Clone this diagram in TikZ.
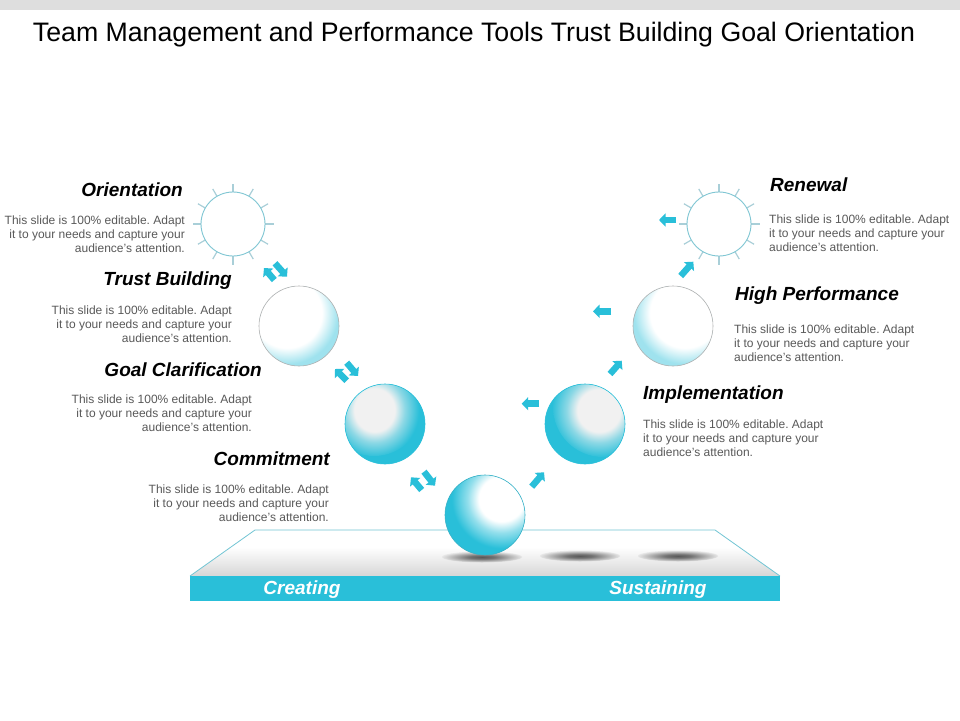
\documentclass[tikz,border=0pt]{standalone}
\usepackage{fontspec}
\setmainfont{Liberation Sans}
\usetikzlibrary{arrows.meta}
\frenchspacing
\definecolor{teal1}{HTML}{29BFD9}
\definecolor{bodygray}{HTML}{595959}
\definecolor{rim}{HTML}{7FC6D3}
\definecolor{raycol}{HTML}{A9CFD8}
\definecolor{softw}{HTML}{F1F1F1}
\pgfdeclareradialshading{hlWhite}{\pgfpoint{0bp}{0bp}}{color(0bp)=(white); color(10bp)=(white); color(15bp)=(teal1!50!white); color(22bp)=(teal1); color(50bp)=(teal1)}
\pgfdeclareradialshading{hlSoft}{\pgfpoint{0bp}{0bp}}{color(0bp)=(softw); color(10bp)=(softw); color(15bp)=(teal1!50!softw); color(22bp)=(teal1); color(50bp)=(teal1)}
\pgfdeclareradialshading{hlPale}{\pgfpoint{0bp}{0bp}}{color(0bp)=(white); color(15bp)=(white); color(22bp)=(teal1!45!white); color(50bp)=(teal1!45!white)}
\pgfdeclareradialshading{shadowball}{\pgfpoint{0bp}{0bp}}{color(0bp)=(black!65); color(8bp)=(black!55); color(25bp)=(black!10); color(50bp)=(white)}
\tikzset{
  sphere/.style={circle,minimum size=80pt,inner sep=0pt,line width=.6pt},
  glow/.style n args={4}{path picture={\shade[shading=#1] ([shift={(#2,#3)}]path picture bounding box.center) circle (#4);}},
  sunball/.style={circle,minimum size=64pt,inner sep=0pt,draw=rim,line width=.9pt,fill=white},
  rayline/.style={draw=raycol,line width=1.2pt},
  head/.style={font=\fontsize{19}{22}\selectfont\bfseries\itshape,text=black,inner sep=0pt},
  bodyl/.style={font=\fontsize{12}{14}\selectfont,text=bodygray,inner sep=0pt,align=right,anchor=east},
  bodyr/.style={font=\fontsize{12}{14}\selectfont,text=bodygray,inner sep=0pt,align=left,anchor=west},
  blockarrow/.style={draw=teal1,line width=6.5pt,-{Triangle[length=6.5pt,width=13pt]}},
  bandtext/.style={font=\fontsize{19}{22}\selectfont\bfseries\itshape,text=white,inner sep=0pt},
  shadowell/.style={shading=shadowball}
}
\begin{document}
\begin{tikzpicture}[x=1pt,y=-1pt]
\useasboundingbox (0,0) rectangle (960,720);
\fill[white] (0,0) rectangle (960,720);
\fill[black!13] (0,0) rectangle (960,10);
\node[inner sep=0pt,font=\fontsize{26.7}{32}\selectfont] (title) at (474,34.5) {Team Management and Performance Tools Trust Building Goal Orientation};
% platform
\fill[white] (190,576) -- (255,530) -- (715,530) -- (780,576) -- cycle;
\begin{scope}
\clip (190,576) -- (255,530) -- (715,530) -- (780,576) -- cycle;
\shade[top color=white,bottom color=black!16] (180,547) rectangle (790,576);
\end{scope}
\draw[rim!85!teal1,line width=.8pt] (190,576) -- (255,530) -- (715,530) -- (780,576);
\fill[teal1] (190,576) rectangle (780,601);
\node[bandtext] (creating) at (302,589.5) {Creating};
\node[bandtext] (sustaining) at (658,589.5) {Sustaining};
% shadows
\shade[shadowell] (482,557) ellipse [x radius=40,y radius=5.5];
\shade[shadowell] (580,556) ellipse [x radius=40,y radius=5.5];
\shade[shadowell] (678,556) ellipse [x radius=40,y radius=5.5];
% spheres
\node[sphere,draw=teal1!80!gray,fill=teal1,glow={hlWhite}{18}{-17}{55}] (s1) at (485,515) {};
\node[sphere,draw=teal1,fill=teal1,glow={hlSoft}{-11}{-18}{50}] (s2) at (385,424) {};
\node[sphere,draw=teal1,fill=teal1,glow={hlSoft}{18}{-17}{50}] (s3) at (585,424) {};
\node[sphere,draw=black!30,fill=teal1!45!white,glow={hlPale}{-12}{-13}{58}] (s4) at (299,326) {};
\node[sphere,draw=black!30,fill=teal1!45!white,glow={hlPale}{12}{-13}{58}] (s5) at (673,326) {};
% suns
\foreach \a in {0,30,...,330}{
  \draw[rayline] (233,224) ++(\a:32) -- ++(\a:8.5);
  \draw[rayline] (719,224) ++(\a:32) -- ++(\a:8.5);
}
\node[sunball] (s6) at (233,224) {};
\node[sunball] (s7) at (719,224) {};
% arrows
\coordinate (a1t) at (274.3,280); \coordinate (a1h) at (264,268);
\coordinate (a2t) at (275,263.3); \coordinate (a2h) at (287,276.7);
\coordinate (a3t) at (346.7,380.7); \coordinate (a3h) at (335,369);
\coordinate (a4t) at (346.7,362.7); \coordinate (a4h) at (358,376);
\coordinate (a5t) at (421.7,490); \coordinate (a5h) at (411,477.3);
\coordinate (a6t) at (424,471.7); \coordinate (a6h) at (435,485.7);
\coordinate (a7t) at (531.7,486.7); \coordinate (a7h) at (544,472.3);
\coordinate (a8t) at (539,403.7); \coordinate (a8h) at (521.7,403.7);
\coordinate (a9t) at (610,374); \coordinate (a9h) at (621.7,360.7);
\coordinate (a10t) at (611,311.3); \coordinate (a10h) at (593,311.3);
\coordinate (a11t) at (680.7,276); \coordinate (a11h) at (693.3,261.7);
\coordinate (a12t) at (676,220); \coordinate (a12h) at (659,220);
\foreach \i in {1,...,12}{\draw[blockarrow] (a\i t) -- (a\i h);}
% labels left
\node[head,anchor=east] (h1) at (183,190) {Orientation};
\node[bodyl] (b1) at (185,234.5) {This slide is 100\% editable. Adapt\\it to your needs and capture your\\audience's attention.};
\node[head,anchor=east] (h2) at (232,281) {Trust Building};
\node[bodyl] (b2) at (232,324.5) {This slide is 100\% editable. Adapt\\it to your needs and capture your\\audience's attention.};
\node[head,anchor=east] (h3) at (262,370) {Goal Clarification};
\node[bodyl] (b3) at (252,413.5) {This slide is 100\% editable. Adapt\\it to your needs and capture your\\audience's attention.};
\node[head,anchor=east] (h4) at (330,459) {Commitment};
\node[bodyl] (b4) at (329,503.5) {This slide is 100\% editable. Adapt\\it to your needs and capture your\\audience's attention.};
% labels right
\node[head,anchor=west] (h5) at (770,185) {Renewal};
\node[bodyr] (b5) at (769,233.5) {This slide is 100\% editable. Adapt\\it to your needs and capture your\\audience's attention.};
\node[head,anchor=west] (h6) at (735,296) {High Performance};
\node[bodyr] (b6) at (734,343.5) {This slide is 100\% editable. Adapt\\it to your needs and capture your\\audience's attention.};
\node[head,anchor=west] (h7) at (643,395) {Implementation};
\node[bodyr] (b7) at (643,438.5) {This slide is 100\% editable. Adapt\\it to your needs and capture your\\audience's attention.};
\end{tikzpicture}
\end{document}
